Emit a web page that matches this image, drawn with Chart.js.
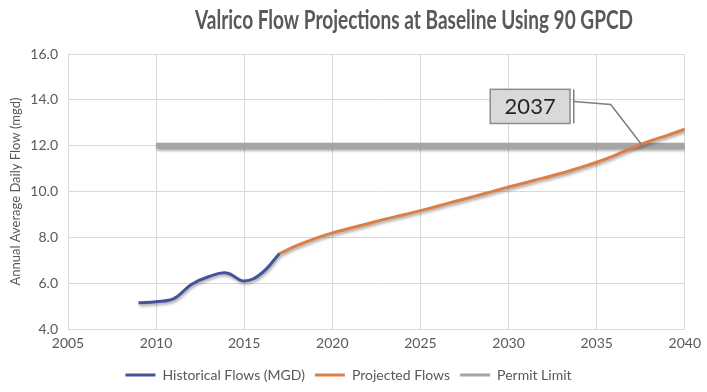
<!DOCTYPE html>
<html>
<head>
<meta charset="utf-8">
<script src="https://cdn.jsdelivr.net/npm/chart.js@4.4.1/dist/chart.umd.min.js"></script>
<style>
  html, body { margin: 0; padding: 0; background: #ffffff; }
  #wrap { width: 707px; height: 392px; }
</style>
</head>
<body>
<div id="wrap"><canvas id="chart" width="707" height="392"></canvas></div>
<script>
// Dados
const histYears = [2009, 2010, 2011, 2012, 2013, 2014, 2015, 2016, 2017]
const histFlows = [5.15, 5.2, 5.33, 5.95, 6.3, 6.45, 6.1, 6.45, 7.3]

const projYears = [2017, 2018, 2019, 2020, 2021, 2022, 2023, 2024, 2025, 2026, 2027, 2028,
  2029, 2030, 2031, 2032, 2033, 2034, 2035, 2036, 2037, 2038, 2039, 2040]
const projFlows = [7.3, 7.65, 7.95, 8.2, 8.4, 8.6, 8.8, 8.98, 9.17, 9.37, 9.58, 9.78,
  9.99, 10.2, 10.4, 10.6, 10.8, 11.03, 11.28, 11.57, 11.9, 12.2, 12.45, 12.72]

const permitYears = [2010, 2040]
const permitFlows = [12.0, 12.0]

const xTicks = [2005, 2010, 2015, 2020, 2025, 2030, 2035, 2040]
const yTicks = [4, 6, 8, 10, 12, 14, 16]

const titleText = 'Valrico Flow Projections at Baseline Using 90 GPCD'
const calloutText = '2037'

const toPoints = (xs, ys) => xs.map((x, i) => ({ x: x, y: ys[i] }))

const textColor = '#595959'
const gridColor = '#d9d9d9'
const fontFamily = 'Lato, "Open Sans", sans-serif'

// sombra nas linhas, como no Excel
const shadowPlugin = {
  id: 'lineShadow',
  beforeDatasetDraw(chart, args) {
    const ctx = chart.ctx
    ctx.save()
    ctx.shadowColor = 'rgba(0, 0, 0, 0.35)'
    ctx.shadowBlur = 3
    ctx.shadowOffsetX = 1
    ctx.shadowOffsetY = 2
  },
  afterDatasetDraw(chart) {
    chart.ctx.restore()
  }
}

// título (fonte condensada como Calibri) e caixa "2037"
const extrasPlugin = {
  id: 'extras',
  afterDraw(chart) {
    const ctx = chart.ctx
    const xs = chart.scales.x
    const ys = chart.scales.y

    ctx.save()
    ctx.fillStyle = textColor
    ctx.font = 'bold 26px ' + fontFamily
    ctx.textAlign = 'center'
    ctx.textBaseline = 'middle'
    const w = ctx.measureText(titleText).width
    ctx.translate(414, 21)
    ctx.scale(438 / w, 1)
    ctx.fillText(titleText, 0, 0)
    ctx.restore()

    ctx.save()
    // linha de chamada
    ctx.strokeStyle = '#7f7f7f'
    ctx.lineWidth = 1.5
    ctx.beginPath()
    ctx.moveTo(xs.getPixelForValue(2033.7), ys.getPixelForValue(13.93))
    ctx.lineTo(xs.getPixelForValue(2035.8), ys.getPixelForValue(13.8))
    ctx.lineTo(xs.getPixelForValue(2037.6), ys.getPixelForValue(12.0))
    ctx.stroke()
    ctx.beginPath()
    ctx.moveTo(xs.getPixelForValue(2033.7), ys.getPixelForValue(14.46))
    ctx.lineTo(xs.getPixelForValue(2033.7), ys.getPixelForValue(12.97))
    ctx.stroke()

    // caixa
    const bx = xs.getPixelForValue(2028.96)
    const by = ys.getPixelForValue(14.46)
    const bw = xs.getPixelForValue(2033.49) - bx
    const bh = ys.getPixelForValue(12.97) - by
    ctx.fillStyle = '#d9d9d9'
    ctx.fillRect(bx, by, bw, bh)
    ctx.strokeStyle = '#8c8c8c'
    ctx.lineWidth = 1.5
    ctx.strokeRect(bx, by, bw, bh)
    ctx.fillStyle = '#262626'
    ctx.font = '22px ' + fontFamily
    ctx.textAlign = 'center'
    ctx.textBaseline = 'middle'
    ctx.fillText(calloutText, bx + bw / 2, by + bh / 2 + 1)
    ctx.restore()
  }
}

const chart = new Chart(document.getElementById('chart'), {
  type: 'line',
  data: {
    datasets: [
      {
        label: 'Historical Flows (MGD)',
        data: toPoints(histYears, histFlows),
        borderColor: '#44549c',
        backgroundColor: '#44549c',
        borderWidth: 3,
        pointRadius: 0,
        tension: 0.4,
        order: 2
      },
      {
        label: 'Projected Flows',
        data: toPoints(projYears, projFlows),
        borderColor: '#dc7f45',
        backgroundColor: '#dc7f45',
        borderWidth: 3,
        pointRadius: 0,
        tension: 0.4,
        order: 1
      },
      {
        label: 'Permit Limit',
        data: toPoints(permitYears, permitFlows),
        borderColor: '#a5a5a5',
        backgroundColor: '#a5a5a5',
        borderWidth: 6,
        pointRadius: 0,
        order: 3
      }
    ]
  },
  options: {
    responsive: false,
    animation: false,
    layout: { padding: { top: 54, right: 18, left: 8, bottom: 0 } },
    plugins: {
      title: { display: false },
      tooltip: { enabled: false },
      legend: {
        position: 'bottom',
        labels: {
          color: textColor,
          font: { family: fontFamily, size: 14 },
          boxWidth: 30,
          boxHeight: 3,
          padding: 10,
          generateLabels(chart) {
            return chart.data.datasets.map((ds, i) => ({
              text: ds.label,
              fillStyle: ds.borderColor,
              strokeStyle: ds.borderColor,
              lineWidth: 0,
              fontColor: textColor,
              datasetIndex: i
            }))
          }
        }
      }
    },
    scales: {
      x: {
        type: 'linear',
        min: 2005,
        max: 2040,
        afterBuildTicks(scale) { scale.ticks = xTicks.map(v => ({ value: v })) },
        grid: { color: gridColor, drawTicks: false },
        border: { color: gridColor },
        ticks: {
          color: textColor,
          font: { family: fontFamily, size: 14 },
          padding: 6,
          maxRotation: 0,
          callback: v => String(v)
        }
      },
      y: {
        min: 4,
        max: 16,
        afterBuildTicks(scale) { scale.ticks = yTicks.map(v => ({ value: v })) },
        afterFit(scale) { scale.width = 60 },
        grid: { color: gridColor, drawTicks: false },
        border: { display: false },
        ticks: {
          color: textColor,
          font: { family: fontFamily, size: 14 },
          padding: 10,
          callback: v => Number(v).toFixed(1)
        },
        title: {
          display: true,
          text: 'Annual Average Daily Flow (mgd)',
          color: textColor,
          font: { family: fontFamily, size: 13 },
          padding: 0
        }
      }
    }
  },
  plugins: [shadowPlugin, extrasPlugin]
})
</script>
</body>
</html>
